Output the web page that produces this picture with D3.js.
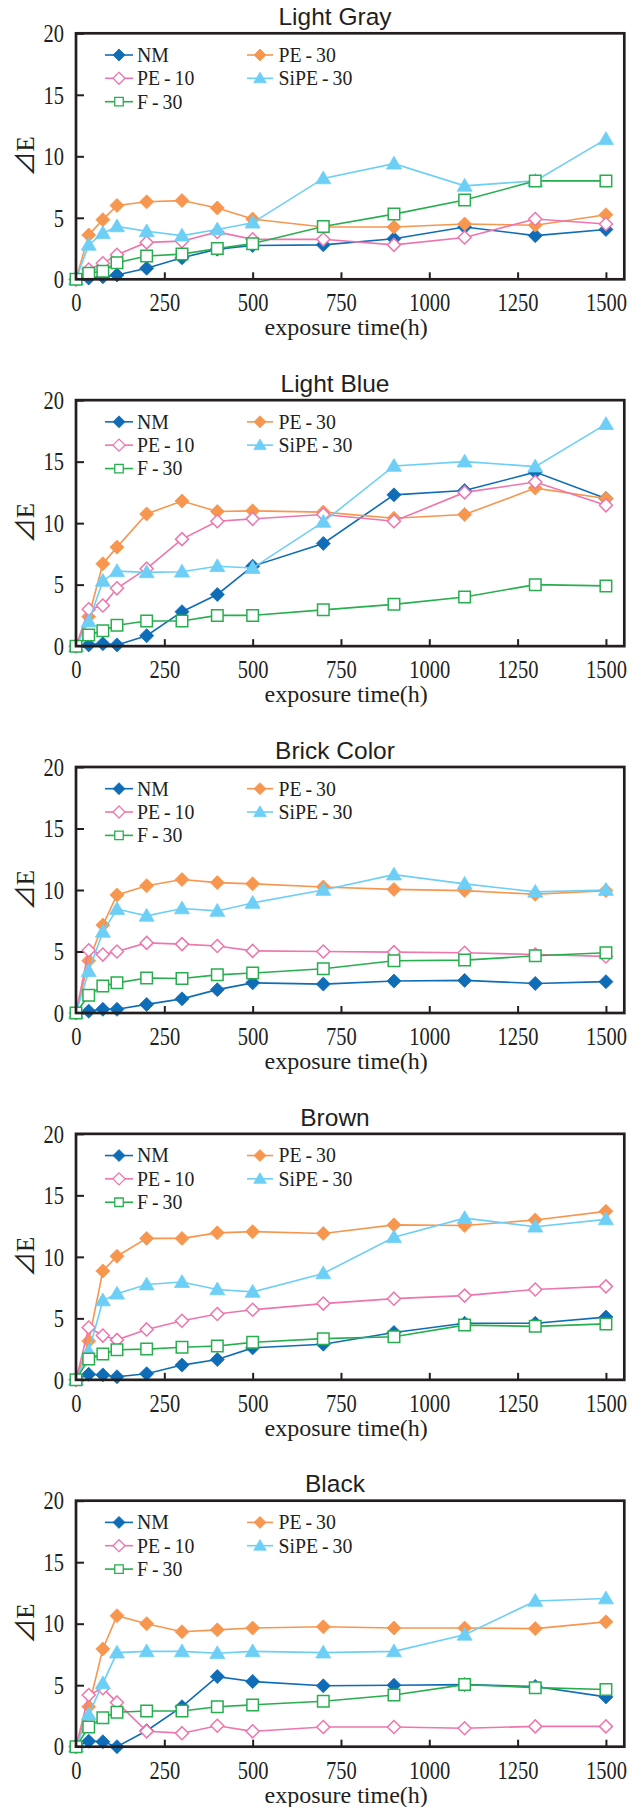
<!DOCTYPE html>
<html>
<head>
<meta charset="utf-8">
<script src="https://cdn.jsdelivr.net/npm/d3@7"></script>
<style>
  html, body { margin: 0; padding: 0; background: #fff; }
  svg { display: block; }
</style>
</head>
<body>
<svg id="chart" width="638" height="1807"></svg>
<script>
// Exposure times (h) at which colour difference was measured
const hours = [0, 36, 76, 116, 200, 300, 400, 500, 700, 900, 1100, 1300, 1500];

const panelTitles = ["Light Gray", "Light Blue", "Brick Color", "Brown", "Black"];
const seriesNames = ["NM", "PE-30", "PE-10", "SiPE-30", "F-30"];
const xTickValues = [0, 250, 500, 750, 1000, 1250, 1500];
const yTickValues = [0, 5, 10, 15, 20];

// ΔE per series (rows follow seriesNames), one array per paint colour
const lightGrayValues = [
  [0, 0.1, 0.2, 0.35, 0.9, 1.75, 2.45, 2.75, 2.8, 3.3, 4.25, 3.55, 4.05],
  [0, 3.6, 4.85, 6.0, 6.3, 6.4, 5.8, 4.9, 4.25, 4.25, 4.5, 4.4, 5.25],
  [0, 0.8, 1.3, 2.0, 3.0, 3.1, 3.85, 3.25, 3.25, 2.8, 3.4, 4.9, 4.5],
  [0, 2.8, 3.75, 4.3, 3.9, 3.55, 4.05, 4.6, 8.2, 9.4, 7.6, 8.0, 11.4],
  [0, 0.5, 0.65, 1.35, 1.9, 2.05, 2.5, 2.9, 4.3, 5.3, 6.45, 8.0, 8.0]
];
const lightBlueValues = [
  [0, 0.1, 0.2, 0.1, 0.85, 2.8, 4.2, 6.5, 8.35, 12.3, 12.65, 14.15, 12.0],
  [0, 2.4, 6.7, 8.05, 10.75, 11.8, 10.95, 11.0, 10.9, 10.4, 10.7, 12.85, 12.0],
  [0, 3.0, 3.3, 4.7, 6.3, 8.7, 10.15, 10.35, 10.7, 10.15, 12.5, 13.35, 11.45],
  [0, 2.0, 5.3, 6.1, 6.0, 6.05, 6.5, 6.35, 10.1, 14.65, 15.0, 14.6, 18.05],
  [0, 0.9, 1.25, 1.7, 2.05, 2.05, 2.5, 2.5, 2.95, 3.4, 4.0, 5.0, 4.9]
];
const brickColorValues = [
  [0, 0.15, 0.3, 0.3, 0.7, 1.15, 1.9, 2.45, 2.35, 2.6, 2.65, 2.4, 2.55],
  [0, 4.25, 7.15, 9.6, 10.35, 10.85, 10.6, 10.5, 10.25, 10.05, 9.95, 9.65, 9.95],
  [0, 5.1, 4.75, 5.0, 5.7, 5.6, 5.45, 5.05, 5.0, 4.95, 4.9, 4.75, 4.6],
  [0, 3.4, 6.6, 8.45, 7.9, 8.5, 8.3, 8.95, 10.0, 11.25, 10.5, 9.85, 10.0],
  [0, 1.45, 2.2, 2.45, 2.85, 2.8, 3.1, 3.25, 3.6, 4.25, 4.3, 4.65, 4.9]
];
const brownValues = [
  [0, 0.45, 0.4, 0.25, 0.5, 1.2, 1.65, 2.6, 2.9, 3.85, 4.6, 4.6, 5.1],
  [0, 3.15, 8.85, 10.05, 11.5, 11.5, 11.95, 12.05, 11.9, 12.6, 12.55, 13.0, 13.7],
  [0, 4.25, 3.6, 3.25, 4.1, 4.8, 5.35, 5.7, 6.2, 6.6, 6.85, 7.35, 7.6],
  [0, 2.3, 6.45, 7.0, 7.75, 7.95, 7.35, 7.15, 8.65, 11.6, 13.15, 12.45, 13.05],
  [0, 1.7, 2.1, 2.45, 2.5, 2.65, 2.75, 3.05, 3.35, 3.5, 4.45, 4.35, 4.55]
];
const blackValues = [
  [0, 0.45, 0.4, 0.0, 1.3, 3.25, 5.7, 5.3, 4.95, 5.0, 5.05, 4.9, 4.05],
  [0, 3.25, 7.95, 10.65, 10.0, 9.35, 9.5, 9.65, 9.75, 9.65, 9.65, 9.6, 10.15],
  [0, 4.2, 4.75, 3.6, 1.25, 1.1, 1.7, 1.25, 1.6, 1.6, 1.5, 1.65, 1.65],
  [0, 2.6, 5.15, 7.65, 7.75, 7.75, 7.6, 7.75, 7.65, 7.75, 9.1, 11.85, 12.05],
  [0, 1.6, 2.35, 2.8, 2.9, 2.9, 3.25, 3.4, 3.7, 4.2, 5.05, 4.8, 4.65]
];
const panelValues = [lightGrayValues, lightBlueValues, brickColorValues, brownValues, blackValues];

// ---- styling ----
const seriesColors = ["#0f6cb6", "#f7964f", "#ef75ad", "#6dcff6", "#27ae4f"];
const seriesShapes = ["diamond", "diamond", "diamond", "triangle", "square"];
const seriesFilled = [true, true, false, true, false];

const frameColor = "#231f20";
const serif = "'Liberation Serif', 'Times New Roman', serif";
const sans = "'Liberation Sans', Arial, sans-serif";

const plotLeft = 76, plotRight = 624.3, plotH = 246;
const firstTop = 33.3, panelStep = 366.85;

// custom symbol types for d3.symbol (size = full extent squared)
const diamondType = { draw(ctx, size) { const r = Math.sqrt(size) / 2; ctx.moveTo(0, -r); ctx.lineTo(r, 0); ctx.lineTo(0, r); ctx.lineTo(-r, 0); ctx.closePath(); } };
const squareType = { draw(ctx, size) { const r = Math.sqrt(size) / 2; ctx.rect(-r, -r, 2 * r, 2 * r); } };
const triangleType = { draw(ctx, size) { const w = Math.sqrt(size); const h = w * 0.85; ctx.moveTo(0, -h * 0.58); ctx.lineTo(w / 2, h * 0.42); ctx.lineTo(-w / 2, h * 0.42); ctx.closePath(); } };
const shapeTypes = { diamond: diamondType, square: squareType, triangle: triangleType };

function plotMarkerSize(i) {
  if (seriesShapes[i] === "square") return 11.5 * 11.5;
  if (seriesShapes[i] === "triangle") return 15 * 15;
  return seriesFilled[i] ? 14 * 14 : 13 * 13;
}
function legendMarkerSize(i) {
  if (seriesShapes[i] === "square") return 8.5 * 8.5;
  if (seriesShapes[i] === "triangle") return 12.5 * 12.5;
  return 12 * 12;
}

function condense(sel, factor) {
  sel.each(function () {
    const w = this.getComputedTextLength();
    d3.select(this).attr("textLength", w * factor).attr("lengthAdjust", "spacingAndGlyphs");
  });
}

const svg = d3.select("#chart");

const x = d3.scaleLinear().domain([0, 1552]).range([plotLeft, plotRight]);

panelTitles.forEach((title, p) => {
  const top = firstTop + p * panelStep;
  const bottom = top + plotH;
  const y = d3.scaleLinear().domain([0, 20]).range([bottom, top]);
  const g = svg.append("g").attr("class", "panel");

  // title
  g.append("text")
    .attr("x", 335).attr("y", top - 8.3)
    .attr("text-anchor", "middle")
    .attr("font-family", sans).attr("font-size", 24.5)
    .attr("fill", frameColor)
    .text(title);

  // x axis ticks (inward)
  const xAxis = d3.axisBottom(x).tickValues(xTickValues).tickSizeInner(-7).tickSizeOuter(0).tickFormat(d3.format("d"));
  const xa = g.append("g").attr("transform", `translate(0,${bottom})`).call(xAxis);
  xa.select(".domain").remove();
  xa.selectAll(".tick line").attr("stroke", frameColor).attr("stroke-width", 2);
  xa.selectAll(".tick text")
    .attr("y", 32).attr("dy", null)
    .attr("font-family", serif).attr("font-size", 24.4)
    .attr("fill", frameColor);
  condense(xa.selectAll(".tick text"), 0.84);

  // y axis ticks (inward)
  const yAxis = d3.axisLeft(y).tickValues(yTickValues).tickSizeInner(-8).tickSizeOuter(0).tickFormat(d3.format("d"));
  const ya = g.append("g").attr("transform", `translate(${plotLeft},0)`).call(yAxis);
  ya.select(".domain").remove();
  ya.selectAll(".tick line").attr("stroke", frameColor).attr("stroke-width", 2);
  ya.selectAll(".tick text")
    .attr("x", -12).attr("dy", 8.2)
    .attr("font-family", serif).attr("font-size", 24.4)
    .attr("fill", frameColor);
  condense(ya.selectAll(".tick text"), 0.84);

  // axis titles
  g.append("text")
    .attr("x", (plotLeft + plotRight) / 2 - 4).attr("y", bottom + 56)
    .attr("text-anchor", "middle")
    .attr("font-family", serif).attr("font-size", 24)
    .attr("fill", frameColor)
    .text("exposure time(h)");

  g.append("text")
    .attr("transform", `translate(33.5,${(top + bottom) / 2}) rotate(-90)`)
    .attr("text-anchor", "middle")
    .attr("font-family", serif + ", 'Noto Sans CJK JP'").attr("font-size", 25)
    .attr("fill", frameColor)
    .text("⊿E");

  // series: line, then markers
  const line = d3.line().x((d, i) => x(hours[i])).y(d => y(d));
  const data = panelValues[p];
  seriesNames.forEach((name, s) => {
    const sg = g.append("g").attr("class", "series");
    sg.append("path")
      .attr("d", line(data[s]))
      .attr("fill", "none")
      .attr("stroke", seriesColors[s])
      .attr("stroke-width", 1.6);
    const sym = d3.symbol().type(shapeTypes[seriesShapes[s]]).size(plotMarkerSize(s));
    sg.selectAll("path.mark").data(data[s]).join("path")
      .attr("class", "mark")
      .attr("transform", (d, i) => `translate(${x(hours[i])},${y(d)})`)
      .attr("d", sym)
      .attr("fill", seriesFilled[s] ? seriesColors[s] : "#fff")
      .attr("stroke", seriesColors[s])
      .attr("stroke-width", seriesFilled[s] ? 0.8 : 1.5);
  });

  // legend
  const legendCols = [{ lx0: 105, lx1: 133, mx: 119, tx: 137 }, { lx0: 247, lx1: 273, mx: 260, tx: 278.5 }];
  const legendRows = [21.7, 45, 68.4];
  seriesNames.forEach((name, s) => {
    const col = legendCols[s % 2], row = legendRows[Math.floor(s / 2)];
    const cy = top + row;
    const lg = g.append("g").attr("class", "legend-item");
    lg.append("line")
      .attr("x1", col.lx0).attr("x2", col.lx1).attr("y1", cy).attr("y2", cy)
      .attr("stroke", seriesColors[s]).attr("stroke-width", 1.6);
    lg.append("path")
      .attr("transform", `translate(${col.mx},${cy})`)
      .attr("d", d3.symbol().type(shapeTypes[seriesShapes[s]]).size(legendMarkerSize(s)))
      .attr("fill", seriesFilled[s] ? seriesColors[s] : "#fff")
      .attr("stroke", seriesColors[s])
      .attr("stroke-width", seriesFilled[s] ? 0.8 : 1.3);
    const t = lg.append("text")
      .attr("x", col.tx).attr("y", cy + 6.9)
      .attr("font-family", serif).attr("font-size", 21.5)
      .attr("fill", frameColor)
      .text(name.replace("-", "\u2009-\u2009"));
    condense(t, 0.92);
  });

  // frame
  g.append("rect")
    .attr("x", plotLeft).attr("y", top)
    .attr("width", plotRight - plotLeft).attr("height", plotH)
    .attr("fill", "none")
    .attr("stroke", frameColor)
    .attr("stroke-width", 2.7);
});
</script>
</body>
</html>
